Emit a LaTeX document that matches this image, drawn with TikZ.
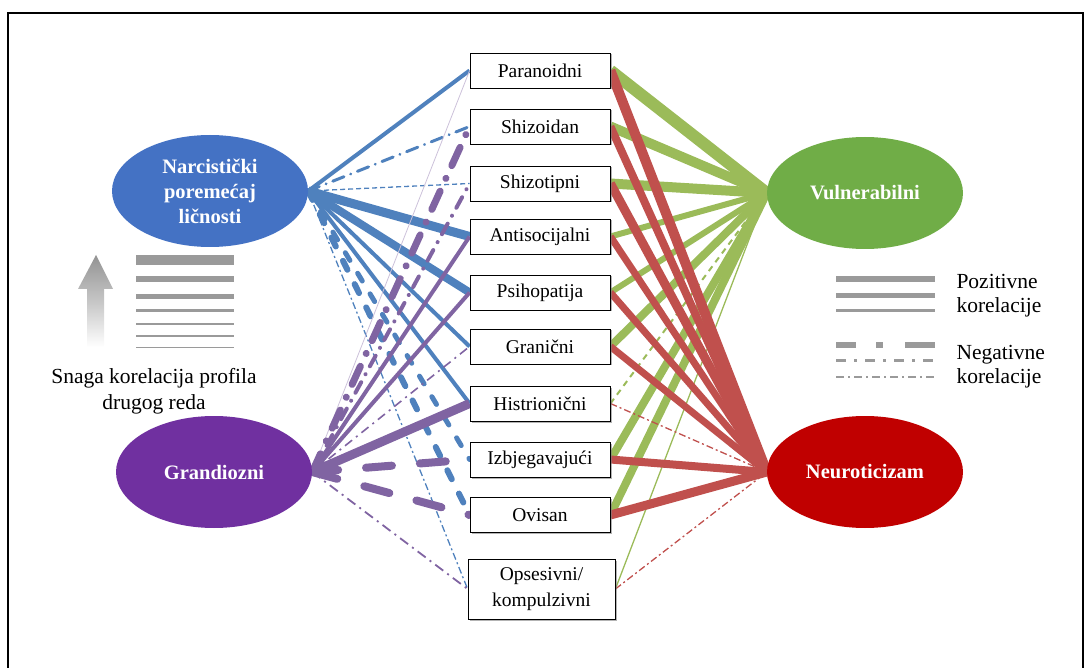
\documentclass[tikz,border=0pt]{standalone}
\usepackage{fontspec}
\setmainfont{Liberation Serif}
\usetikzlibrary{shapes.geometric,shadows}
\pgfdeclarelayer{bg}
\pgfsetlayers{bg,main}
\definecolor{nblue}{HTML}{4472C4}
\definecolor{lblue}{HTML}{4F81BD}
\definecolor{npurp}{HTML}{7030A0}
\definecolor{lpurp}{HTML}{8064A2}
\definecolor{ngreen}{HTML}{70AD47}
\definecolor{lgreen}{HTML}{9BBB59}
\definecolor{nred}{HTML}{C00000}
\definecolor{lred}{HTML}{C0504D}
\definecolor{leg}{HTML}{9A9A9A}
\tikzset{
  box/.style={draw=black, line width=0.8pt, fill=white, minimum width=140pt, minimum height=35pt, inner sep=0pt, font=\fontsize{19.5}{26}\selectfont, align=center, drop shadow={shadow xshift=1.5pt, shadow yshift=-1.5pt, opacity=0.6, fill=gray}},
  ell/.style={ellipse, minimum width=196pt, minimum height=112pt, inner sep=0pt, text=white, font=\bfseries\fontsize{20.5}{25}\selectfont, align=center},
  lbl/.style={font=\fontsize{21.5}{26}\selectfont, align=center},
  rlbl/.style={font=\fontsize{21.5}{24}\selectfont, align=left, anchor=west},
  ddot/.style={line cap=round, dash pattern=on #1 off 0.6*#1 on 0.1pt off 0.6*#1},
  thindash/.style={dash pattern=on 5pt off 3pt},
  thindd/.style={dash pattern=on 7pt off 3pt on 2pt off 3pt},
}
\begin{document}
\begin{tikzpicture}[x=1pt,y=-1pt]
\useasboundingbox (0,0) rectangle (1090,668);
% frame
\draw[line width=1.5pt] (8,670) -- (8,13) -- (1083,13) -- (1083,670);

% ellipses
\node[ell, fill=nblue] (nar) at (210,191) {Narcistički\\poremećaj\\ličnosti};
\node[ell, fill=npurp] (gra) at (214,472) {Grandiozni};
\node[ell, fill=ngreen] (vul) at (865,193) {Vulnerabilni};
\node[ell, fill=nred] (neu) at (865,472) {Neuroticizam};

% boxes
\node[box] (p1) at (540,70.5) {Paranoidni};
\node[box] (p2) at (540,126.5) {Shizoidan};
\node[box] (p3) at (540,183.5) {Shizotipni};
\node[box] (p4) at (540,236.5) {Antisocijalni};
\node[box] (p5) at (540,292.5) {Psihopatija};
\node[box] (p6) at (540,346.5) {Granični};
\node[box] (p7) at (540,403.5) {Histrionični};
\node[box] (p8) at (540,459.5) {Izbjegavajući};
\node[box] (p9) at (540,515) {Ovisan};
\node[box, minimum width=147pt, minimum height=60pt] (p10) at (541.5,589) {Opsesivni/\\kompulzivni};

\begin{pgfonlayer}{bg}
% blue
\begin{scope}[draw=lblue]
\draw[line width=4pt] (nar.east) -- (p1.west);
\draw[line width=3pt, ddot=12pt] (nar.east) -- (p2.west);
\draw[line width=1.3pt, thindash] (nar.east) -- (p3.west);
\draw[line width=9pt] (nar.east) -- (p4.west);
\draw[line width=8pt] (nar.east) -- (p5.west);
\draw[line width=4pt] (nar.east) -- (p6.west);
\draw[line width=4pt] (nar.east) -- (p7.west);
\draw[line width=5pt, line cap=round, dash pattern=on 9pt off 15pt] (nar.east) -- (p8.west);
\draw[line width=6pt, line cap=round, dash pattern=on 10pt off 16pt] (nar.east) -- (p9.west);
\draw[line width=1.3pt, thindd] (nar.east) -- (p10.west);
\end{scope}
% purple
\begin{scope}[draw=lpurp]
\draw[line width=0.8pt, draw=lpurp!40] (gra.east) -- (p1.west);
\draw[line width=7pt, line cap=round, dash pattern=on 20pt off 14pt on 0.1pt off 14pt] (gra.east) -- (p2.west);
\draw[line width=4pt, line cap=round, dash pattern=on 12pt off 9pt on 0.1pt off 9pt] (gra.east) -- (p3.west);
\draw[line width=4pt] (gra.east) -- (p4.west);
\draw[line width=4pt] (gra.east) -- (p5.west);
\draw[line width=1.6pt, dash pattern=on 9pt off 5pt on 2pt off 5pt] (gra.east) -- (p6.west);
\draw[line width=9pt] (gra.east) -- (p7.west);
\draw[line width=8pt, line cap=round, dash pattern=on 26pt off 28pt] (gra.east) -- (p8.west);
\draw[line width=8pt, line cap=round, dash pattern=on 26pt off 28pt] (gra.east) -- (p9.west);
\draw[line width=1.8pt, dash pattern=on 10pt off 5pt on 2pt off 5pt] (gra.east) -- (p10.west);
\end{scope}
% green
\begin{scope}[draw=lgreen]
\draw[line width=12pt] (p1.east) -- (vul.west);
\draw[line width=10pt] (p2.east) -- (vul.west);
\draw[line width=10pt] (p3.east) -- (vul.west);
\draw[line width=6pt] (p4.east) -- (vul.west);
\draw[line width=6pt] (p5.east) -- (vul.west);
\draw[line width=8pt] (p6.east) -- (vul.west);
\draw[line width=2pt, dash pattern=on 6pt off 5pt] (p7.east) -- (vul.west);
\draw[line width=8pt] (p8.east) -- (vul.west);
\draw[line width=8pt] (p9.east) -- (vul.west);
\draw[line width=1.3pt] (p10.east) -- (vul.west);
\end{scope}
% red
\begin{scope}[draw=lred]
\draw[line width=10pt] (p1.east) -- (neu.west);
\draw[line width=8pt] (p2.east) -- (neu.west);
\draw[line width=9pt] (p3.east) -- (neu.west);
\draw[line width=7pt] (p4.east) -- (neu.west);
\draw[line width=7pt] (p5.east) -- (neu.west);
\draw[line width=7pt] (p6.east) -- (neu.west);
\draw[line width=1.3pt, thindd] (p7.east) -- (neu.west);
\draw[line width=8pt] (p8.east) -- (neu.west);
\draw[line width=9pt] (p9.east) -- (neu.west);
\draw[line width=1.3pt, thindd] (p10.east) -- (neu.west);
\end{scope}
\end{pgfonlayer}

% left legend
\shade[top color=gray!85, bottom color=white, middle color=gray!45]
  (87,347) -- (87,289) -- (78,289) -- (96,255) -- (113,289) -- (104,289) -- (104,347) -- cycle;
\foreach \yy/\ww in {260/10, 279/6, 297/5, 311/3, 324/2, 336/1.6, 348/1}
  \draw[leg, line width=\ww pt] (136,\yy) -- (234,\yy);
\node[lbl] (strength) at (154,391) {Snaga korelacija profila\\drugog reda};

% right legend
\foreach \yy/\ww in {279/6, 296/5, 311/3}
  \draw[leg, line width=\ww pt] (836,\yy) -- (935,\yy);
\draw[leg, line width=6pt, dash pattern=on 20pt off 20pt on 7pt off 22pt on 30pt] (836,345) -- (935,345);
\draw[leg, line width=3pt, dash pattern=on 10pt off 8pt on 3pt off 8pt] (836,361) -- (935,361);
\draw[leg, line width=1.5pt, dash pattern=on 8pt off 4pt on 2pt off 4pt] (836,377) -- (935,377);
\node[rlbl] (pos) at (953,296) {Pozitivne\\korelacije};
\node[rlbl] (neg) at (953,367) {Negativne\\korelacije};
\end{tikzpicture}
\end{document}
